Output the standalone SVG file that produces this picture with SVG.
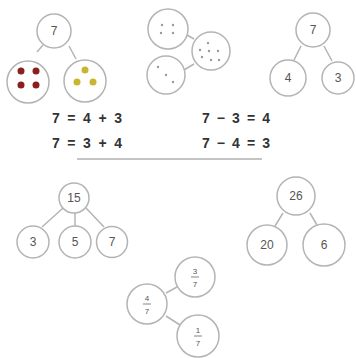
<svg xmlns="http://www.w3.org/2000/svg" width="356" height="358" viewBox="0 0 356 358">
<style>
.c{fill:#fff;stroke:#b4b4b4;stroke-width:1.5}
.l{stroke:#b4b4b4;stroke-width:1.5;fill:none}
.t{font-family:"Liberation Sans",Arial,sans-serif;font-size:12px;fill:#555;text-anchor:middle;dominant-baseline:central}
.f{font-family:"Liberation Sans",Arial,sans-serif;font-size:8px;fill:#555;text-anchor:middle;dominant-baseline:central}
.e{font-family:"Liberation Sans",Arial,sans-serif;font-size:14px;font-weight:bold;fill:#333}
.g{fill:#999}
</style>
<rect width="356" height="358" fill="#fff"/>
<g id="connectors">
<line class="l" x1="43" y1="45" x2="37" y2="52"/>
<line class="l" x1="69" y1="46" x2="76" y2="59"/>
<line class="l" x1="187" y1="35" x2="194" y2="39"/>
<line class="l" x1="184" y1="70" x2="194" y2="64"/>
<line class="l" x1="301" y1="46" x2="294" y2="60"/>
<line class="l" x1="324" y1="46" x2="332" y2="61"/>
<line class="l" x1="63" y1="208" x2="42" y2="227"/>
<line class="l" x1="75" y1="213" x2="75" y2="226"/>
<line class="l" x1="86" y1="208" x2="104" y2="227"/>
<line class="l" x1="283" y1="213" x2="275" y2="226"/>
<line class="l" x1="310" y1="213" x2="317" y2="225"/>
<line class="l" x1="166" y1="293" x2="177" y2="287"/>
<line class="l" x1="166" y1="316" x2="180" y2="325"/>
</g>
<g id="n7a"><circle class="c" cx="54" cy="31" r="17"/><text class="t" x="54" y="31">7</text></g>
<g id="red"><circle class="c" cx="28" cy="82" r="21"/>
<circle cx="21" cy="71" r="3.5" fill="#8b1e1e"/><circle cx="36" cy="71" r="3.5" fill="#8b1e1e"/>
<circle cx="21" cy="85" r="3.5" fill="#8b1e1e"/><circle cx="36" cy="85" r="3.5" fill="#8b1e1e"/></g>
<g id="yellow"><circle class="c" cx="85" cy="81" r="21"/>
<circle cx="85" cy="70" r="3.5" fill="#c9b531"/><circle cx="77" cy="82" r="3.5" fill="#c9b531"/><circle cx="93" cy="82" r="3.5" fill="#c9b531"/></g>
<g id="d4"><circle class="c" cx="168" cy="29" r="20"/>
<circle class="g" cx="162" cy="25" r="1.2"/><circle class="g" cx="173" cy="25" r="1.2"/><circle class="g" cx="161" cy="33" r="1.2"/><circle class="g" cx="173" cy="33" r="1.2"/></g>
<g id="d7"><circle class="c" cx="211" cy="51" r="19"/>
<circle class="g" cx="208" cy="43" r="1.2"/><circle class="g" cx="200" cy="50" r="1.2"/><circle class="g" cx="209" cy="51" r="1.2"/><circle class="g" cx="218" cy="51" r="1.2"/><circle class="g" cx="202" cy="57" r="1.2"/><circle class="g" cx="211" cy="60" r="1.2"/><circle class="g" cx="219" cy="60" r="1.2"/></g>
<g id="d3"><circle class="c" cx="166" cy="75" r="19"/>
<circle class="g" cx="158" cy="67" r="1.2"/><circle class="g" cx="166" cy="75" r="1.2"/><circle class="g" cx="173" cy="82" r="1.2"/></g>
<g id="n7b"><circle class="c" cx="313" cy="30" r="17"/><text class="t" x="313" y="30">7</text></g>
<g id="n4"><circle class="c" cx="288" cy="78" r="18"/><text class="t" x="288" y="78">4</text></g>
<g id="n3"><circle class="c" cx="338" cy="78" r="16"/><text class="t" x="338" y="78">3</text></g>
<g id="equations">
<text class="e" x="52" y="123" textLength="70" lengthAdjust="spacing">7 = 4 + 3</text>
<text class="e" x="52" y="148" textLength="70" lengthAdjust="spacing">7 = 3 + 4</text>
<text class="e" x="202" y="123" textLength="68" lengthAdjust="spacing">7 − 3 = 4</text>
<text class="e" x="202" y="148" textLength="68" lengthAdjust="spacing">7 − 4 = 3</text>
<line x1="77" y1="159" x2="262" y2="159" stroke="#b0b0b0" stroke-width="1.5"/>
</g>
<g id="n15"><circle class="c" cx="74" cy="198" r="15"/><text class="t" x="74" y="198">15</text></g>
<g id="n3b"><circle class="c" cx="33" cy="242" r="16"/><text class="t" x="33" y="242">3</text></g>
<g id="n5"><circle class="c" cx="75" cy="242" r="16"/><text class="t" x="75" y="242">5</text></g>
<g id="n7c"><circle class="c" cx="112" cy="242" r="15.5"/><text class="t" x="112" y="242">7</text></g>
<g id="n26"><circle class="c" cx="296" cy="196" r="19"/><text class="t" x="296" y="196">26</text></g>
<g id="n20"><circle class="c" cx="267" cy="245" r="20"/><text class="t" x="267" y="245">20</text></g>
<g id="n6"><circle class="c" cx="324" cy="245" r="21"/><text class="t" x="324" y="245">6</text></g>
<g id="f37"><circle class="c" cx="195" cy="277" r="20"/><text class="f" x="195" y="271">3</text><line x1="191" y1="277" x2="199" y2="277" stroke="#666" stroke-width="0.8"/><text class="f" x="195" y="284">7</text></g>
<g id="f47"><circle class="c" cx="147" cy="304" r="20"/><text class="f" x="147" y="298">4</text><line x1="143" y1="304" x2="151" y2="304" stroke="#666" stroke-width="0.8"/><text class="f" x="147" y="311">7</text></g>
<g id="f17"><circle class="c" cx="198" cy="336" r="21"/><text class="f" x="198" y="330">1</text><line x1="194" y1="336" x2="202" y2="336" stroke="#666" stroke-width="0.8"/><text class="f" x="198" y="343">7</text></g>
</svg>
